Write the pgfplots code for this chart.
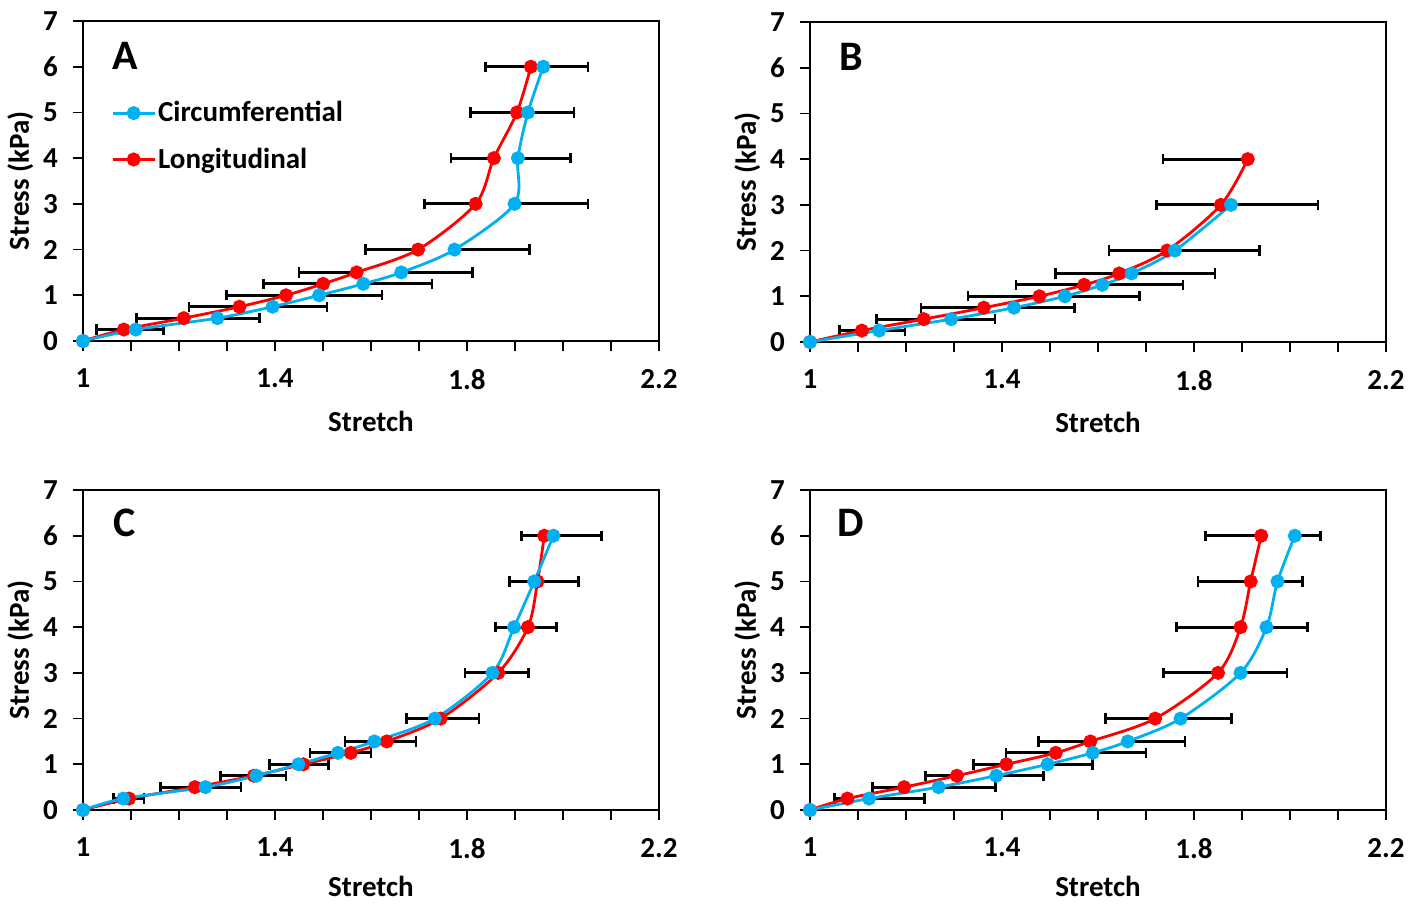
\documentclass[border=0pt]{standalone}
\usepackage{fontspec}
\setmainfont{Carlito}
\usepackage{pgfplots}
\usepackage{pgfplotstable}
\pgfplotsset{compat=1.18}
\definecolor{circ}{RGB}{0,176,240}
\definecolor{longi}{RGB}{255,0,0}

% s = stress, lx/lm = longitudinal stretch and minus error, cx/cp = circumferential stretch and plus error
\pgfplotstableread{
s    lx    lm    cx    cp
0    1     0     1     0
0.25 1.085 0.057 1.110 0.058
0.5  1.210 0.098 1.280 0.088
0.75 1.326 0.105 1.395 0.113
1    1.423 0.124 1.492 0.131
1.25 1.500 0.124 1.584 0.143
1.5  1.570 0.120 1.663 0.148
2    1.698 0.110 1.774 0.156
3    1.818 0.107 1.899 0.153
4    1.856 0.089 1.906 0.109
5    1.904 0.097 1.927 0.096
6    1.933 0.095 1.959 0.093
}\tabA
\pgfplotstableread{
s    lx    lm    cx    cp
0    1     0     1     0
0.25 1.108 0.047 1.144 0.054
0.5  1.237 0.098 1.294 0.091
0.75 1.362 0.131 1.425 0.126
1    1.478 0.149 1.531 0.155
1.25 1.571 0.142 1.609 0.168
1.5  1.644 0.133 1.670 0.174
2    1.744 0.121 1.760 0.177
3    1.856 0.134 1.877 0.181
4    1.912 0.177 nan   nan
}\tabB
\pgfplotstableread{
s    lx    lm    cx    cp
0    1     0     1     0
0.25 1.096 0.033 1.084 0.043
0.5  1.233 0.072 1.255 0.074
0.75 1.356 0.069 1.361 0.062
1    1.459 0.070 1.449 0.063
1.25 1.558 0.085 1.531 0.069
1.5  1.633 0.087 1.607 0.087
2    1.745 0.071 1.733 0.092
3    1.865 0.069 1.853 0.075
4    1.927 0.068 1.898 0.088
5    1.947 0.058 1.940 0.092
6    1.961 0.047 1.980 0.100
}\tabC
\pgfplotstableread{
s    lx    lm    cx    cp
0    1     0     1     0
0.25 1.078 0.027 1.123 0.116
0.5  1.196 0.066 1.268 0.119
0.75 1.306 0.065 1.388 0.098
1    1.409 0.069 1.495 0.093
1.25 1.512 0.104 1.589 0.111
1.5  1.584 0.108 1.662 0.119
2    1.719 0.103 1.772 0.106
3    1.850 0.113 1.897 0.097
4    1.897 0.134 1.951 0.086
5    1.918 0.110 1.974 0.052
6    1.940 0.116 2.010 0.054
}\tabD

\tikzset{letter/.style={font=\fontsize{21}{24}\selectfont\bfseries}}
\pgfplotsset{
  panel/.style={
    scale only axis, width=288pt, height=160pt,
    xmin=1, xmax=2.2, ymin=0, ymax=7,
    xtick={1,1.4,1.8,2.2}, xticklabels={1,1.4,1.8,2.2}, minor x tick num=3,
    ytick={0,1,2,3,4,5,6,7}, yticklabels={0,1,2,3,4,5,6,7},
    xtick pos=bottom, ytick pos=left, tick align=outside,
    major tick length=5pt, minor tick length=5pt,
    every tick/.style={black, line width=0.9pt},
    axis line style={line width=1.1pt},
    font=\fontsize{14.5}{17}\selectfont\bfseries,
    /pgf/number format/assume math mode=true,
    xticklabel style={yshift=-5.5pt},
    yticklabel style={xshift=-4pt},
    xlabel={Stretch}, ylabel={Stress (kPa)},
    xlabel style={at={(axis description cs:0.5,-0.25)}, anchor=center, inner sep=1pt},
    ylabel style={at={(axis description cs:-0.109,0.5)}, anchor=center},
    clip=false,
  },
  lower/.style={xlabel style={at={(axis description cs:0.5,-0.24)}}},
  bars/.style={draw=none, mark=none, forget plot,
    error bars/.cd, x explicit, x dir=#1,
    error bar style={draw=black, line width=1.4pt},
    error mark options={draw=black, line width=1.3pt, mark size=2.6pt, rotate=90}},
  lline/.style={longi, line width=1.4pt, smooth, mark=*, mark size=2.8pt, mark options={fill=longi}},
  cline/.style={circ, line width=1.4pt, smooth, mark=*, mark size=2.8pt, mark options={fill=circ}},
}

\begin{document}
\begin{tikzpicture}
\path[use as bounding box] (0,0) rectangle (711pt,-452pt);

\begin{axis}[panel, at={(41.5pt,-170.5pt)}, anchor=south west,
  legend style={draw=none, fill=none, at={(rel axis cs:0.038,0.775)}, anchor=north west,
    row sep=7.5pt, font=\fontsize{14.5}{17}\selectfont\bfseries, nodes={inner xsep=1pt}},
  legend cell align=left,
  legend image code/.code={\draw[#1, mark repeat=2, mark phase=2] plot coordinates {(0pt,0pt) (10.5pt,0pt) (21pt,0pt)};}]
  \addplot[bars=minus] table[x=lx, y=s, x error minus=lm] {\tabA};
  \addplot[bars=plus] table[x=cx, y=s, x error plus=cp] {\tabA};
  \addplot[lline, forget plot] table[x=lx, y=s] {\tabA};
  \addplot[cline, forget plot] table[x=cx, y=s] {\tabA};
  \addlegendimage{circ, line width=1.4pt, mark=*, mark size=2.8pt, mark options={fill=circ}}
  \addlegendentry{Circumferential}
  \addlegendimage{longi, line width=1.4pt, mark=*, mark size=2.8pt, mark options={fill=longi}}
  \addlegendentry{Longitudinal}
  \node[letter] at (rel axis cs:0.073,0.89) {A};
\end{axis}

\begin{axis}[panel, at={(405pt,-171pt)}, anchor=south west]
  \addplot[bars=minus] table[x=lx, y=s, x error minus=lm] {\tabB};
  \addplot[bars=plus] table[x=cx, y=s, x error plus=cp] {\tabB};
  \addplot[lline] table[x=lx, y=s] {\tabB};
  \addplot[cline] table[x=cx, y=s] {\tabB};
  \node[letter] at (rel axis cs:0.071,0.89) {B};
\end{axis}

\begin{axis}[panel, lower, at={(41.5pt,-405pt)}, anchor=south west]
  \addplot[bars=minus] table[x=lx, y=s, x error minus=lm] {\tabC};
  \addplot[bars=plus] table[x=cx, y=s, x error plus=cp] {\tabC};
  \addplot[lline] table[x=lx, y=s] {\tabC};
  \addplot[cline] table[x=cx, y=s] {\tabC};
  \node[letter] at (rel axis cs:0.073,0.897) {C};
\end{axis}

\begin{axis}[panel, lower, at={(405pt,-405pt)}, anchor=south west]
  \addplot[bars=minus] table[x=lx, y=s, x error minus=lm] {\tabD};
  \addplot[bars=plus] table[x=cx, y=s, x error plus=cp] {\tabD};
  \addplot[lline] table[x=lx, y=s] {\tabD};
  \addplot[cline] table[x=cx, y=s] {\tabD};
  \node[letter] at (rel axis cs:0.071,0.897) {D};
\end{axis}
\end{tikzpicture}
\end{document}
